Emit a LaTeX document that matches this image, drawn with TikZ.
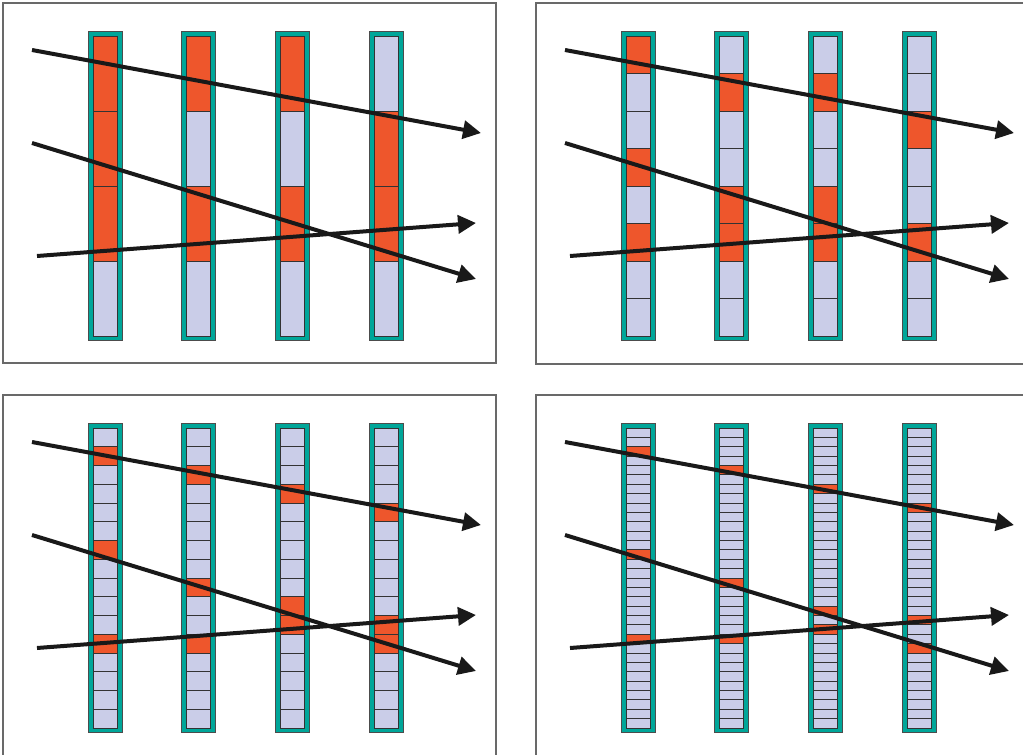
\documentclass[tikz,border=0pt]{standalone}
\usetikzlibrary{arrows.meta}
\definecolor{barteal}{RGB}{0,166,153}
\definecolor{celllav}{RGB}{202,205,232}
\definecolor{hitred}{RGB}{238,86,44}
\definecolor{framegray}{RGB}{105,105,105}

% one panel: #1 shift, #2 frame height, #3 cells per bar, #4 hit list (bar/cell), #5 name
\newcommand{\raypanel}[5]{%
  \begin{scope}[shift={#1}]
    \draw[frame] (0,0) rectangle (493,#2);
    \foreach \c in {1,...,4} {
      \pgfmathsetmacro{\cx}{102+93.7*(\c-1)}
      \draw[bar] ({\cx-17},28) rectangle ({\cx+17},337);
      \foreach \k in {1,...,#3}
        \draw[cell] ({\cx-12},{33+(\k-1)*300/#3}) rectangle ({\cx+12},{33+\k*300/#3});
    }
    \foreach \c/\k in {#4} {
      \pgfmathsetmacro{\cx}{102+93.7*(\c-1)}
      \draw[hit] ({\cx-12},{33+(\k-1)*300/#3}) rectangle ({\cx+12},{33+\k*300/#3});
    }
    \coordinate (#5-a0) at (29,47);
    \coordinate (#5-a1) at (478,130);
    \coordinate (#5-b0) at (29,140);
    \coordinate (#5-b1) at (473,276);
    \coordinate (#5-c0) at (34,253);
    \coordinate (#5-c1) at (473,220);
    \draw[ray] (#5-a0) -- (#5-a1);
    \draw[ray] (#5-b0) -- (#5-b1);
    \draw[ray] (#5-c0) -- (#5-c1);
  \end{scope}}

\begin{document}
\begin{tikzpicture}[x=0.5pt, y=-0.5pt,
    frame/.style={draw=framegray, line width=0.75pt},
    bar/.style={draw=black!70, fill=barteal, line width=0.45pt},
    cell/.style={draw=black!80, fill=celllav, line width=0.5pt},
    hit/.style={cell, fill=hitred},
    ray/.style={-{Triangle[length=9pt, width=9pt]}, line width=2pt, black!90}
  ]
  \useasboundingbox (0,0) rectangle (1023,755);

  \raypanel{(3,3)}{360}{4}{1/1,1/2,1/3,2/1,2/3,3/1,3/3,4/2,4/3}{p1}
  \raypanel{(536,3)}{361}{8}{1/1,1/4,1/6,2/2,2/5,2/6,3/2,3/5,3/6,4/3,4/6}{p2}
  \raypanel{(3,395)}{370}{16}{1/2,1/7,1/12,2/3,2/9,2/12,3/4,3/10,3/11,4/5,4/11,4/12}{p3}
  \raypanel{(536,395)}{370}{32}{1/3,1/14,1/23,2/5,2/17,2/23,3/7,3/20,3/22,4/9,4/21,4/24}{p4}
\end{tikzpicture}
\end{document}
